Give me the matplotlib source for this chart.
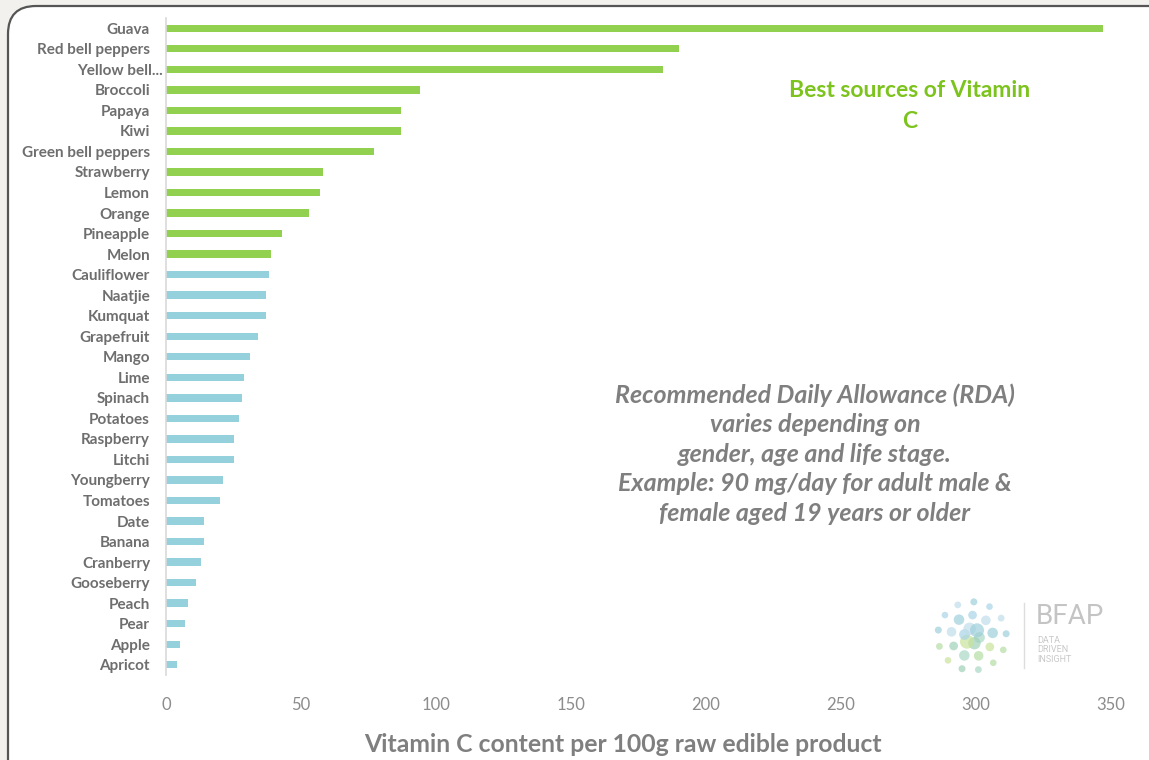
import matplotlib
matplotlib.use("Agg")
import matplotlib.pyplot as plt
import matplotlib.transforms as mtransforms
from matplotlib.patches import FancyBboxPatch, Circle
import numpy as np

categories = ["Guava", "Red bell peppers", "Yellow bell...", "Broccoli", "Papaya", "Kiwi",
              "Green bell peppers", "Strawberry", "Lemon", "Orange", "Pineapple", "Melon",
              "Cauliflower", "Naatjie", "Kumquat", "Grapefruit", "Mango", "Lime", "Spinach",
              "Potatoes", "Raspberry", "Litchi", "Youngberry", "Tomatoes", "Date", "Banana",
              "Cranberry", "Gooseberry", "Peach", "Pear", "Apple", "Apricot"]
values = [347, 190, 184, 94, 87, 87, 77, 58, 57, 53, 43, 39,
          38, 37, 37, 34, 31, 29, 28, 27, 25, 25, 21, 20, 14, 14,
          13, 11, 8, 7, 5, 4]
n_best = 12
xticks = [0, 50, 100, 150, 200, 250, 300, 350]

GREEN = "#92D050"
BLUE = "#95D1DD"
GRAY = "#7F7F7F"

W, H = 1149, 760
fig = plt.figure(figsize=(W / 100, H / 100), dpi=100)
fig.patch.set_facecolor("#F2F1EE")

panel = FancyBboxPatch((8, -60), 1250, 60 + H - 6,
                       boxstyle="round,pad=0,rounding_size=28",
                       transform=None, facecolor="white", edgecolor="#555555",
                       linewidth=1.6, zorder=-5)
fig.patches.append(panel)

ax = fig.add_axes([166 / W, 1 - 675 / H, (1111 - 166) / W, (675 - 18) / H], zorder=2)
ax.set_facecolor("none")
ypos = np.arange(len(categories))
colors = [GREEN if i < n_best else BLUE for i in range(len(categories))]
ax.barh(ypos, values, height=0.36, color=colors)
ax.set_ylim(len(categories) - 0.5, -0.5)
ax.set_xlim(0, 350)
ax.set_yticks(ypos)
ax.set_yticklabels(categories, fontsize=11, fontweight="bold",
                   color="#6E6E6E", family="Lato")
ax.set_xticks(xticks)
ax.set_xticklabels([str(t) for t in xticks], fontsize=12, color="#8C8C8C", family="Lato")
ax.tick_params(axis="both", length=0)
ax.tick_params(axis="y", pad=11.5)
ax.tick_params(axis="x", pad=16)
for s in ["top", "right", "bottom"]:
    ax.spines[s].set_visible(False)
ax.spines["left"].set_color("#D9D9D9")
ax.spines["left"].set_linewidth(1.2)

# shift truncated label like the reference
lab = ax.get_yticklabels()[2]
lab.set_transform(lab.get_transform() + mtransforms.ScaledTranslation(13 / 100, 0, fig.dpi_scale_trans))

ax.set_xlabel("Vitamin C content per 100g raw edible product", fontsize=17.8,
              fontweight="bold", color=GRAY, family="Lato")
ax.xaxis.label.set_va("center")
ax.xaxis.set_label_coords((623 - 166) / 945, (675 - 744) / 657)

fig.text(910 / W, 1 - 106 / H, "Best sources of Vitamin\nC", ha="center", va="center",
         fontsize=16.5, fontweight="bold", color="#7DC31E",
         family="Lato", linespacing=1.55)

fig.text(815 / W, 1 - 454 / H,
         "Recommended Daily Allowance (RDA)\nvaries depending on\ngender, age and life stage.\n"
         "Example: 90 mg/day for adult male &\nfemale aged 19 years or older",
         ha="center", va="center", fontsize=18, fontweight="bold", style="italic",
         color=GRAY, family="Lato", linespacing=1.34)

# BFAP logo (decorative)
cx, cy, R = 972, 636, 38
logo_cols = ["#A9D4E6", "#BFDDEB", "#9ECFDA", "#A8D8C4", "#9FD1B8", "#C8E39B", "#B5DDA5"]
k = 0
for r_frac in [0.2, 0.55, 0.9]:
    nring = int(4 + 10 * r_frac)
    for j in range(nring):
        a = 2 * np.pi * j / nring + r_frac
        px = cx + R * r_frac * np.cos(a)
        py = cy + R * r_frac * np.sin(a)
        col = logo_cols[k % 3] if py < cy else logo_cols[3 + k % 4]
        rad = 3 + 5 * (1 - r_frac) * (0.6 + 0.4 * ((j * 7) % 3) / 2)
        fig.patches.append(Circle((px, H - py), rad, transform=None, facecolor=col,
                                  edgecolor="none", alpha=0.7, zorder=1))
        k += 1
fig.add_artist(plt.Line2D([1024 / W, 1024 / W], [1 - 603 / H, 1 - 668 / H],
                          color="#DDDDDD", lw=1, transform=fig.transFigure))
fig.text(1036 / W, 1 - 616 / H, "BFAP", fontsize=20, color="#C4C4C4", family="Roboto",
         va="center", ha="left")
fig.text(1037 / W, 1 - 650 / H, "DATA\nDRIVEN\nINSIGHT", fontsize=6.5, color="#C8C8C8",
         family="Roboto", va="center", ha="left", linespacing=1.05)

fig.savefig("out.png", dpi=100, facecolor=fig.get_facecolor())
